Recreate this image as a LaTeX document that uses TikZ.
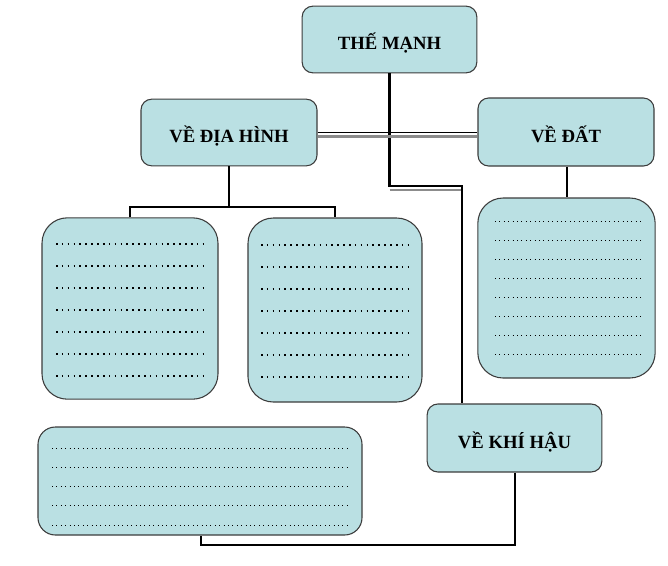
\documentclass[tikz,border=0pt]{standalone}
\usepackage{fontspec}
\setmainfont{Liberation Serif}
\definecolor{hopxanh}{RGB}{186,224,227}
\definecolor{vien}{RGB}{60,60,60}
\tikzset{
  tieude/.style={draw=vien, fill=hopxanh, line width=0.8pt, rounded corners=8pt,
    font=\fontsize{14}{16}\selectfont\bfseries, inner sep=0pt, text height=15pt, text depth=0pt},
  hopcham/.style={draw=vien, fill=hopxanh, line width=0.8pt, rounded corners=19pt, inner sep=0pt},
  noi/.style={line width=1.8pt, black},
  bong/.style={line width=1.6pt, black!45},
  chamto/.style={line width=1.2pt, dash pattern=on 1.2pt off 3.2pt},
  chamnho/.style={line width=0.7pt, dash pattern=on 0.75pt off 2.55pt}
}
\begin{document}
\begin{tikzpicture}[x=0.75pt, y=-0.75pt]
	\useasboundingbox (0,0) rectangle (668,565);

	% cac o tieu de
		\node[tieude, minimum width=131pt, minimum height=50pt] (theManh) at (389.5,39.5) {THẾ MẠNH};
		\node[tieude, minimum width=132pt, minimum height=50pt] (diaHinh) at (229,132.5) {VỀ ĐỊA HÌNH};
		\node[tieude, minimum width=132pt, minimum height=51pt] (dat) at (566,132) {VỀ ĐẤT};
		\node[tieude, minimum width=131pt, minimum height=51pt] (khiHau) at (514.5,438) {VỀ KHÍ HẬU};

	% cac o de dien
		\node[hopcham, minimum width=132pt, minimum height=136pt] (hopA) at (130,308.5) {};
		\node[hopcham, minimum width=130.5pt, minimum height=138pt] (hopB) at (335,310) {};
		\node[hopcham, minimum width=133pt, minimum height=135pt] (hopDat) at (566.5,288) {};
		\node[hopcham, rounded corners=13pt, minimum width=243pt, minimum height=81pt] (hopKhi) at (200,481) {};

	% duong noi
		\coordinate (gapKhi) at (462,186);
		\coordinate (reA) at (229,207);
		\coordinate (gapDuoi) at (515,545);
		\draw[bong] (theManh.south |- 0,190) -- (gapKhi |- 0,190);
		\draw[noi] (theManh.south) |- (gapKhi) -- (gapKhi |- khiHau.north);
		\draw[bong] (diaHinh.east |- 0,136.5) -- (dat.west |- 0,136.5);
		\draw[noi, line width=1.4pt] (diaHinh.east |- 0,132.5) -- (dat.west |- 0,132.5);
		\draw[noi] (diaHinh.south) -- (reA);
		\draw[noi] (hopA.north) |- (reA) -| (hopB.north);
		\draw[noi] (dat.south -| 567,0) -- (hopDat.north -| 567,0);
		\draw[noi] (khiHau.south -| gapDuoi) -- (gapDuoi) -| (hopKhi.south -| 201,0);

	% dong cham
		\foreach \y in {244,266,...,376} {
			\draw[chamto] (56,\y) -- (204,\y);
			\draw[chamto] (261,\y+1) -- (409,\y+1);
		}
		\foreach \y in {221,240,...,354} \draw[chamnho] (495,\y) -- (642,\y);
		\foreach \y in {448,467.25,...,526} \draw[chamnho] (52,\y) -- (351,\y);
\end{tikzpicture}
\end{document}
